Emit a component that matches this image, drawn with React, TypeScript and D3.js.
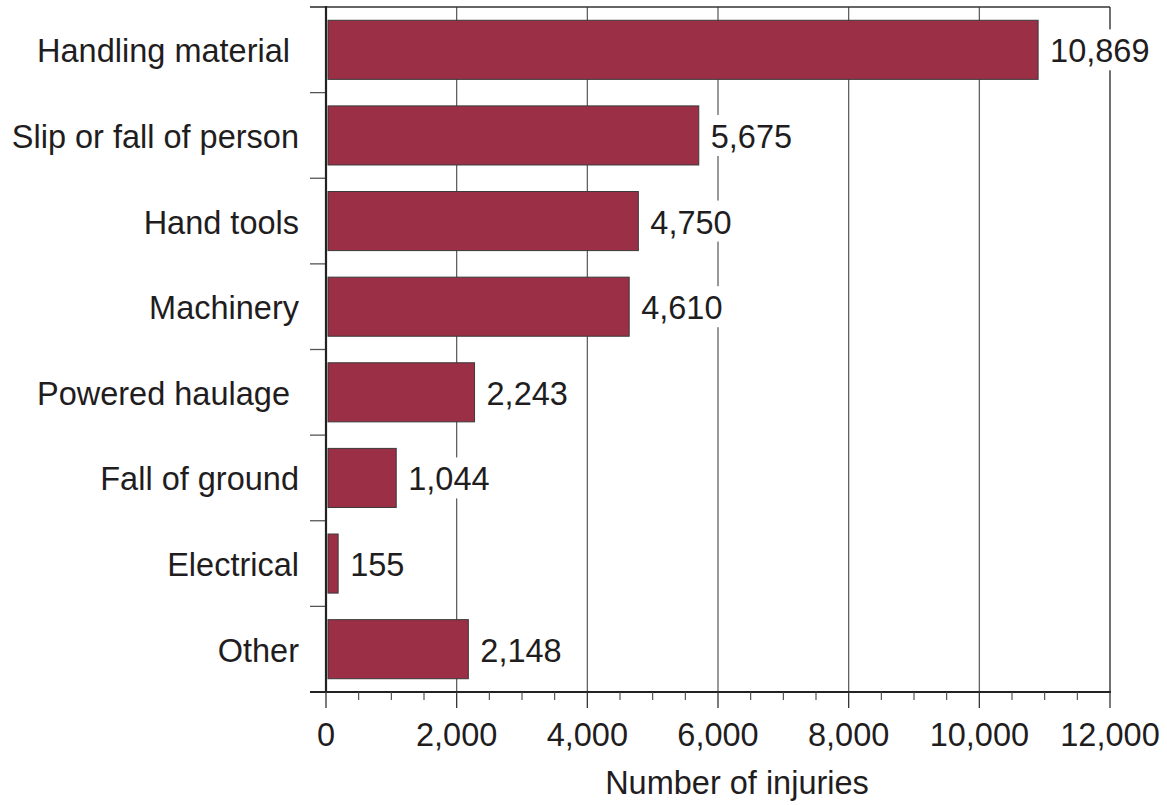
import React from "react";
import * as d3 from "d3";

const categories = [
  "Handling material ",
  "Slip or fall of person",
  "Hand tools",
  "Machinery",
  "Powered haulage ",
  "Fall of ground",
  "Electrical",
  "Other",
];
const injuries = [10869, 5675, 4750, 4610, 2243, 1044, 155, 2148];
const majorTicks = [0, 2000, 4000, 6000, 8000, 10000, 12000];
const minorTicks = d3.range(0, 12001, 500).filter((v) => v % 2000 !== 0);
const axisTitle = "Number of injuries";

const W = 1167;
const H = 805;
const FONT = "'Liberation Sans', Arial, Helvetica, sans-serif";
const TEXT = "#1f1d1e";
const FS = 32.5;

export default function App() {
  const x = d3.scaleLinear().domain([0, 12000]).range([326, 1110]);
  const y = d3
    .scaleBand<string>()
    .domain(categories)
    .range([7, 692])
    .paddingInner(0.31)
    .paddingOuter(0.155);
  const step = y.step();
  const boundaries = d3.range(categories.length + 1).map((i) => 7 + i * step);
  const fmt = d3.format(",");
  const charW = (s: string) => {
    let w = 0;
    for (const c of s) w += c === "," ? 0.278 : 0.556;
    return w * FS;
  };

  return (
    <svg
      width={W}
      height={H}
      style={{ position: "absolute", left: 0, top: 0, background: "#fff" }}
      fontFamily={FONT}
    >
      {/* gridlines */}
      {majorTicks
        .filter((t) => t > 0 && t < 12000)
        .map((t) => (
          <line key={"g" + t} x1={x(t)} x2={x(t)} y1={7} y2={692} stroke="#555" strokeWidth={1.2} />
        ))}
      {/* top & right border */}
      <line x1={310} x2={1110} y1={7} y2={7} stroke="#333" strokeWidth={1.3} />
      <line x1={1110} x2={1110} y1={7} y2={692} stroke="#333" strokeWidth={1.4} />
      {/* left ticks */}
      {boundaries.map((b, i) => (
        <line key={"lt" + i} x1={310} x2={326} y1={b} y2={b} stroke="#555" strokeWidth={1.3} />
      ))}
      {/* bars */}
      {categories.map((c, i) => (
        <rect
          key={"b" + i}
          x={x(0) + 2}
          y={y(c)!}
          width={x(injuries[i]) - x(0)}
          height={y.bandwidth()}
          fill="#9b2f45"
          stroke="#3a3a3a"
          strokeWidth={1}
        />
      ))}
      {/* axes */}
      <line x1={326} x2={326} y1={6} y2={693} stroke="#222" strokeWidth={2.2} />
      <line x1={310} x2={1111} y1={692} y2={692} stroke="#222" strokeWidth={2.2} />
      {majorTicks.map((t) => (
        <line key={"mt" + t} x1={x(t)} x2={x(t)} y1={692} y2={708} stroke="#333" strokeWidth={1.3} />
      ))}
      {minorTicks.map((t) => (
        <line key={"nt" + t} x1={x(t)} x2={x(t)} y1={692} y2={700} stroke="#444" strokeWidth={1.1} />
      ))}
      {/* category labels */}
      {categories.map((c, i) => (
        <text
          key={"c" + i}
          x={299}
          y={y(c)! + y.bandwidth() / 2 + 12.5}
          textAnchor="end"
          fontSize={FS}
          fill={TEXT}
          style={{ whiteSpace: "pre" }}
        >
          {c}
        </text>
      ))}
      {/* value labels */}
      {categories.map((c, i) => {
        const label = fmt(injuries[i]);
        const tx = x(injuries[i]) + 14;
        const cy = y(c)! + y.bandwidth() / 2;
        const tw = charW(label);
        return (
          <g key={"v" + i}>
            <rect x={tx - 4} y={cy - 20.5} width={tw + 8} height={41} fill="#fff" />
            <text x={tx} y={cy + 12.5} fontSize={FS} fill={TEXT}>
              {label}
            </text>
          </g>
        );
      })}
      {/* x tick labels */}
      {majorTicks.map((t) => (
        <text key={"tl" + t} x={x(t)} y={746} textAnchor="middle" fontSize={FS} fill={TEXT}>
          {fmt(t)}
        </text>
      ))}
      <text x={737} y={794} textAnchor="middle" fontSize={FS} fill={TEXT}>
        {axisTitle}
      </text>
    </svg>
  );
}
